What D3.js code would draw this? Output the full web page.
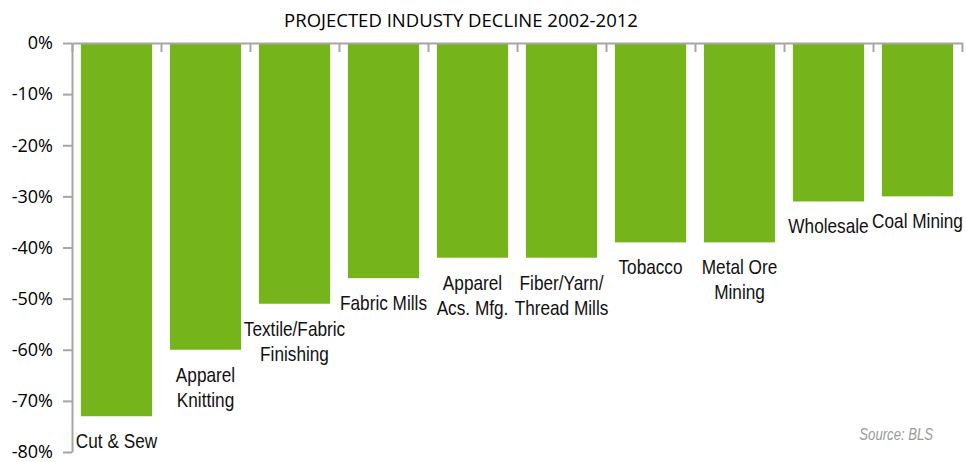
<!DOCTYPE html>
<html>
<head>
<meta charset="utf-8">
<script src="https://cdn.jsdelivr.net/npm/d3@7"></script>
<style>
  body { margin: 0; background: #fff; }
  .axis path, .axis line { stroke: #a6a6a6; stroke-width: 2; }
  .axis text { font-family: "Open Sans", sans-serif; font-size: 18px; fill: #000; }
  .label { font-family: "Liberation Sans Narrow", "Liberation Sans", Arial, sans-serif; font-size: 21px; fill: #111; }
</style>
</head>
<body>
<div id="chart"></div>
<script>
const industries = [
  ["Cut & Sew"],
  ["Apparel", "Knitting"],
  ["Textile/Fabric", "Finishing"],
  ["Fabric Mills"],
  ["Apparel", "Acs. Mfg."],
  ["Fiber/Yarn/", "Thread Mills"],
  ["Tobacco"],
  ["Metal Ore", "Mining"],
  ["Wholesale"],
  ["Coal Mining"]
];
const decline = [-73, -60, -51, -46, -42, -42, -39, -39, -31, -30];
const yTicks = [0, -10, -20, -30, -40, -50, -60, -70, -80];

const margin = { top: 43, right: 4, bottom: 8, left: 72 };
const width = 966 - margin.left - margin.right;
const height = 462 - margin.top - margin.bottom;

// no narrow font installed, so squeeze a regular one
const narrow = 0.82;

const svg = d3.select("#chart")
  .append("svg")
    .attr("width", width + margin.left + margin.right)
    .attr("height", height + margin.top + margin.bottom);

const g = svg.append("g")
  .attr("transform", `translate(${margin.left}, ${margin.top})`);

const x = d3.scaleBand()
  .domain(d3.range(industries.length))
  .range([0, 890])
  .paddingInner(0.2)
  .paddingOuter(0.1);

const y = d3.scaleLinear()
  .domain([0, -80])
  .range([0, 409]);

g.selectAll("rect")
  .data(decline)
  .enter().append("rect")
    .attr("x", (d, i) => x(i))
    .attr("y", 0)
    .attr("width", x.bandwidth())
    .attr("height", d => y(d))
    .attr("fill", "#75b51b");

// top category axis with tick marks between bars
const xb = d3.scaleLinear().domain([0, industries.length]).range([0, 890]);
g.append("g")
  .attr("class", "axis")
  .call(d3.axisBottom(xb).tickValues(d3.range(industries.length + 1)).tickSize(9).tickSizeOuter(0).tickFormat(""));

g.append("g")
  .attr("class", "axis")
  .call(d3.axisLeft(y).tickValues(yTicks).tickSize(9).tickSizeOuter(0).tickPadding(10)
    .tickFormat(d => d + "%"));

// category labels below each bar
const labels = g.selectAll(".label")
  .data(industries)
  .enter().append("text")
    .attr("class", "label")
    .attr("text-anchor", "middle")
    .attr("transform", (d, i) =>
      `translate(${x(i) + x.bandwidth() / 2}, ${y(decline[i]) + 32}) scale(${narrow}, 1)`);

labels.selectAll("tspan")
  .data(d => d)
  .enter().append("tspan")
    .attr("x", 0)
    .attr("dy", (d, i) => i === 0 ? 0 : 25)
    .text(d => d);

svg.append("text")
  .attr("x", 461)
  .attr("y", 27)
  .attr("text-anchor", "middle")
  .style("font-family", "Open Sans, sans-serif")
  .style("font-size", "18.5px")
  .text("PROJECTED INDUSTY DECLINE 2002-2012");

svg.append("text")
  .attr("transform", `translate(933, 440) scale(${narrow}, 1)`)
  .attr("text-anchor", "end")
  .style("font-family", "Liberation Sans, Arial, sans-serif")
  .style("font-style", "italic")
  .style("font-size", "16px")
  .style("fill", "#999")
  .text("Source: BLS");
</script>
</body>
</html>
